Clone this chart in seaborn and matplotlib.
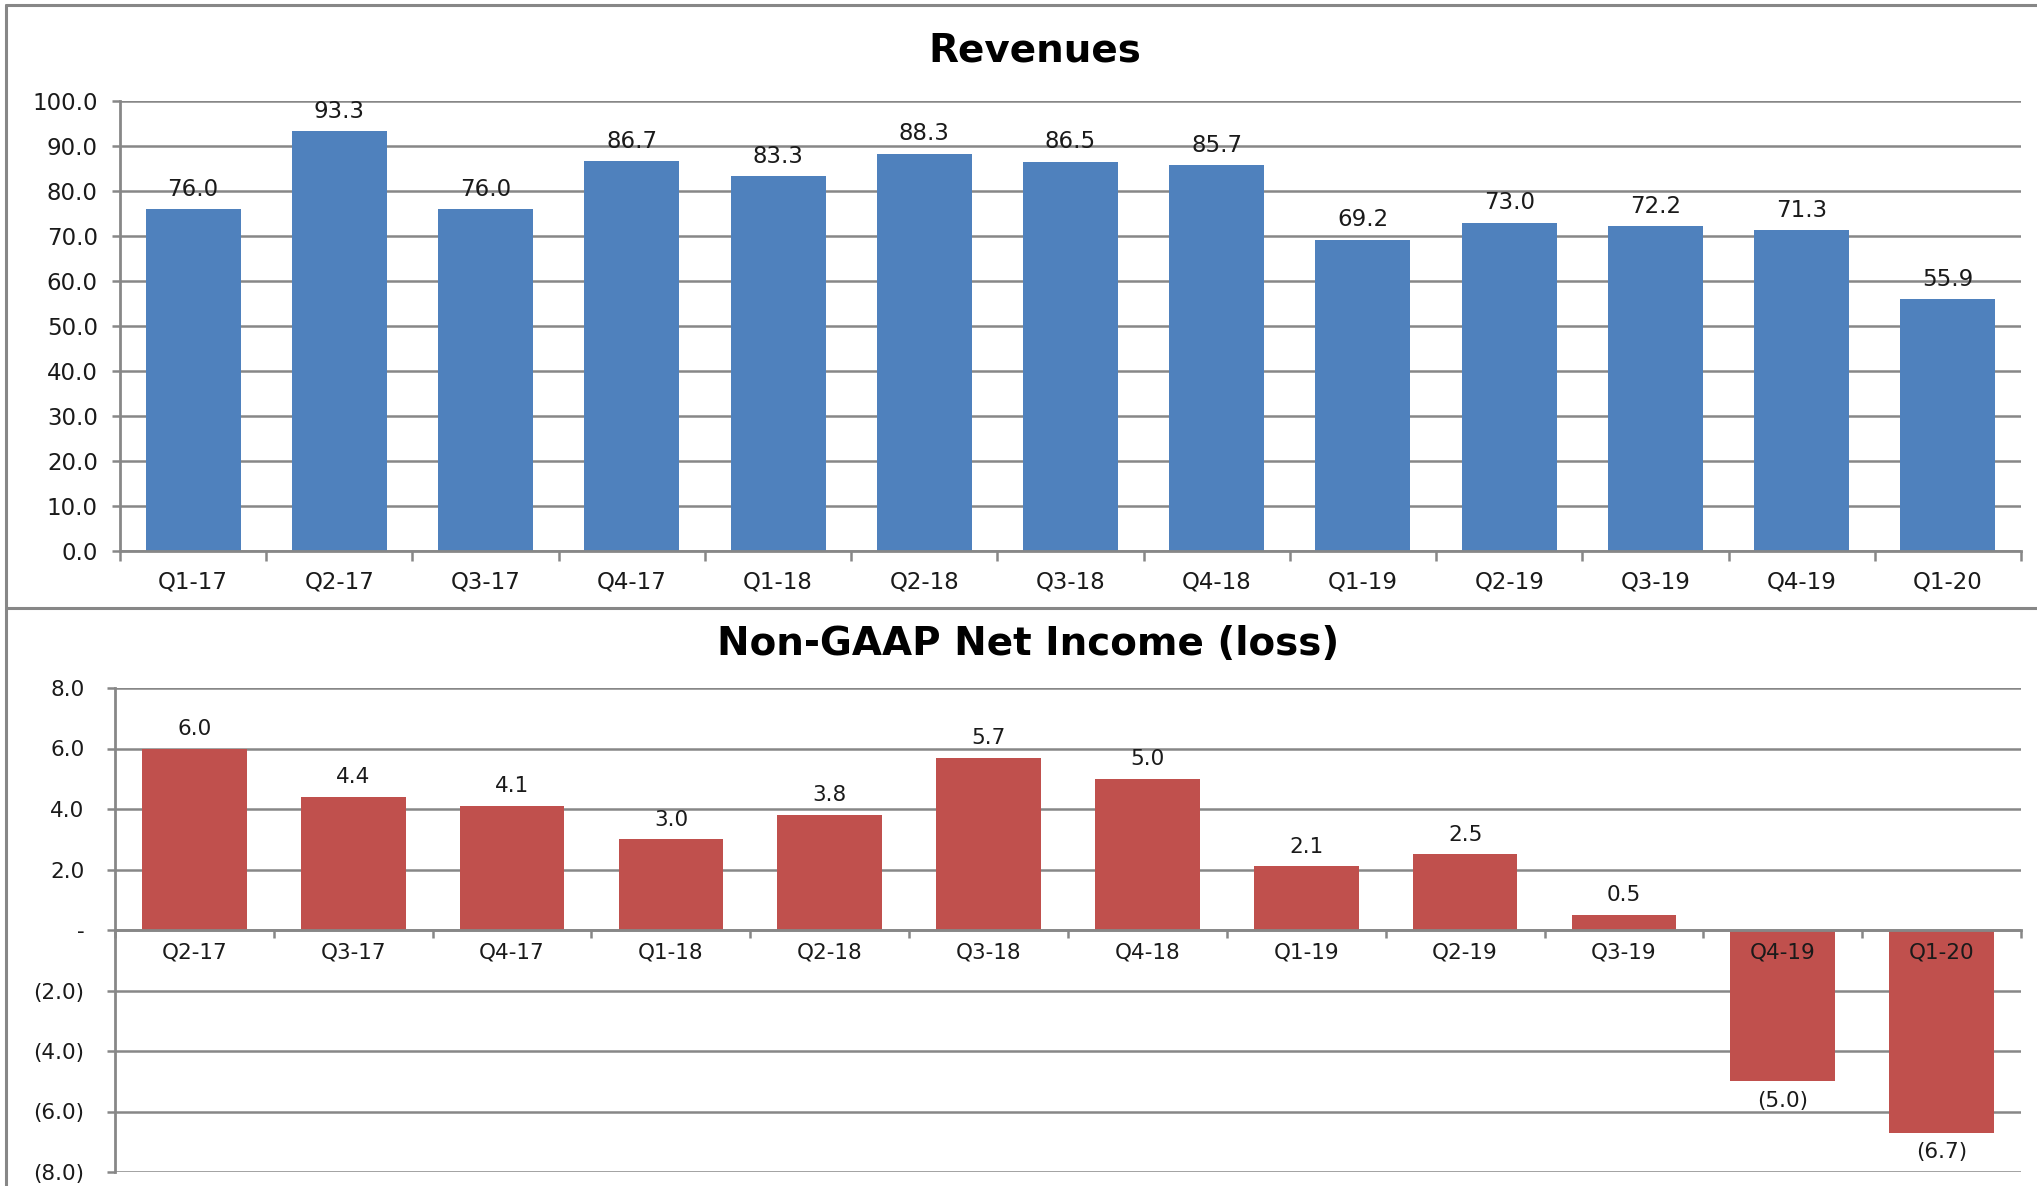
import matplotlib
matplotlib.use('Agg')
import matplotlib.pyplot as plt
import seaborn as sns
import pandas as pd
import numpy as np
from matplotlib.lines import Line2D
from matplotlib.ticker import FuncFormatter

# ---------------- data ----------------
rev_quarters = ['Q1-17', 'Q2-17', 'Q3-17', 'Q4-17', 'Q1-18', 'Q2-18', 'Q3-18',
                'Q4-18', 'Q1-19', 'Q2-19', 'Q3-19', 'Q4-19', 'Q1-20']
rev_values = [76.0, 93.3, 76.0, 86.7, 83.3, 88.3, 86.5, 85.7, 69.2, 73.0, 72.2, 71.3, 55.9]
rev_yticks = [0, 10, 20, 30, 40, 50, 60, 70, 80, 90, 100]

ni_quarters = ['Q2-17', 'Q3-17', 'Q4-17', 'Q1-18', 'Q2-18', 'Q3-18', 'Q4-18',
               'Q1-19', 'Q2-19', 'Q3-19', 'Q4-19', 'Q1-20']
ni_values = [6.0, 4.4, 4.1, 3.0, 3.8, 5.7, 5.0, 2.1, 2.5, 0.5, -5.0, -6.7]
ni_yticks = [-8, -6, -4, -2, 0, 2, 4, 6, 8]

rev_title = 'Revenues'
ni_title = 'Non-GAAP Net Income (loss)'

# ---------------- style ----------------
sns.set_theme(style='white')
plt.rcParams['font.family'] = ['DejaVu Sans']

GRAY = '#878787'
BLUE = '#4F81BD'
RED = '#C0504D'
TXT = '#1a1a1a'

W, H = 2037, 1186
fig = plt.figure(figsize=(W / 100, H / 100), dpi=100)
fig.patch.set_facecolor('white')

ax1 = fig.add_axes([120 / W, 1 - 551 / H, (2021 - 120) / W, (551 - 101) / H])
ax2 = fig.add_axes([115 / W, 1 - 1172 / H, (2021 - 115) / W, (1172 - 688) / H])


def fmt_plain(v):
    return '{:.1f}'.format(v)


def fmt_acct(v):
    if abs(v) < 1e-9:
        return '-'
    if v < 0:
        return '({:.1f})'.format(abs(v))
    return '{:.1f}'.format(v)


def style_axes(ax, n, ytick_size, xtick_size, ypad, xpad, minor_len, yfmt):
    ax.set_xlabel('')
    ax.set_ylabel('')
    ax.set_xlim(-0.5, n - 0.5)
    for s in ['top', 'right']:
        ax.spines[s].set_visible(False)
    for s in ['left', 'bottom']:
        ax.spines[s].set_visible(True)
        ax.spines[s].set_color(GRAY)
        ax.spines[s].set_linewidth(2)
    ax.set_axisbelow(True)
    ax.yaxis.grid(True, color=GRAY, linewidth=1.8)
    ax.xaxis.grid(False)
    ax.tick_params(axis='y', which='major', length=6, width=1.8, color=GRAY,
                   labelsize=ytick_size, labelcolor=TXT, pad=ypad, left=True)
    ax.tick_params(axis='x', which='major', length=0, labelsize=xtick_size,
                   labelcolor=TXT, pad=xpad)
    ax.set_xticks(np.arange(-0.5, n, 1.0), minor=True)
    ax.tick_params(axis='x', which='minor', length=minor_len, width=1.8,
                   color=GRAY, bottom=True)
    ax.yaxis.set_major_formatter(FuncFormatter(lambda v, p: yfmt(v)))


# ---------------- Revenues ----------------
df1 = pd.DataFrame({'quarter': rev_quarters, 'value': rev_values})
sns.barplot(data=df1, x='quarter', y='value', color=BLUE, saturation=1,
            width=0.65, linewidth=0, ax=ax1)
ax1.set_ylim(0, 100)
ax1.set_yticks(rev_yticks)
style_axes(ax1, len(rev_quarters), 16.5, 16.5, 10, 14, 7, fmt_plain)
ax1.bar_label(ax1.containers[0], labels=[fmt_plain(v) for v in rev_values],
              padding=6, fontsize=16.5, color=TXT)

# ---------------- Net income ----------------
df2 = pd.DataFrame({'quarter': ni_quarters, 'value': ni_values})
sns.barplot(data=df2, x='quarter', y='value', color=RED, saturation=1,
            width=0.66, linewidth=0, ax=ax2)
ax2.set_ylim(-8, 8)
ax2.set_yticks(ni_yticks)
style_axes(ax2, len(ni_quarters), 15.5, 15.5, 16, 9, 6, fmt_acct)
ax2.spines['bottom'].set_position(('data', 0))
ax2.xaxis.set_zorder(3)
ax2.bar_label(ax2.containers[0], labels=[fmt_acct(v) for v in ni_values],
              padding=7, fontsize=15.5, color=TXT)

# ---------------- titles ----------------
fig.text(1035 / W, 1 - 50 / H, rev_title, ha='center', va='center',
         fontsize=28, fontweight='bold', color='black')
fig.text(1028 / W, 1 - 644 / H, ni_title, ha='center', va='center',
         fontsize=28, fontweight='bold', color='black')

# ---------------- frame lines ----------------
for xs, ys in [([6 / W, 1], [1 - 5 / H, 1 - 5 / H]),
               ([6 / W, 6 / W], [0, 1 - 5 / H]),
               ([6 / W, 1], [1 - 608 / H, 1 - 608 / H])]:
    fig.add_artist(Line2D(xs, ys, transform=fig.transFigure, color=GRAY,
                          linewidth=2.2))

fig.savefig('out.png', dpi=100, facecolor='white')
